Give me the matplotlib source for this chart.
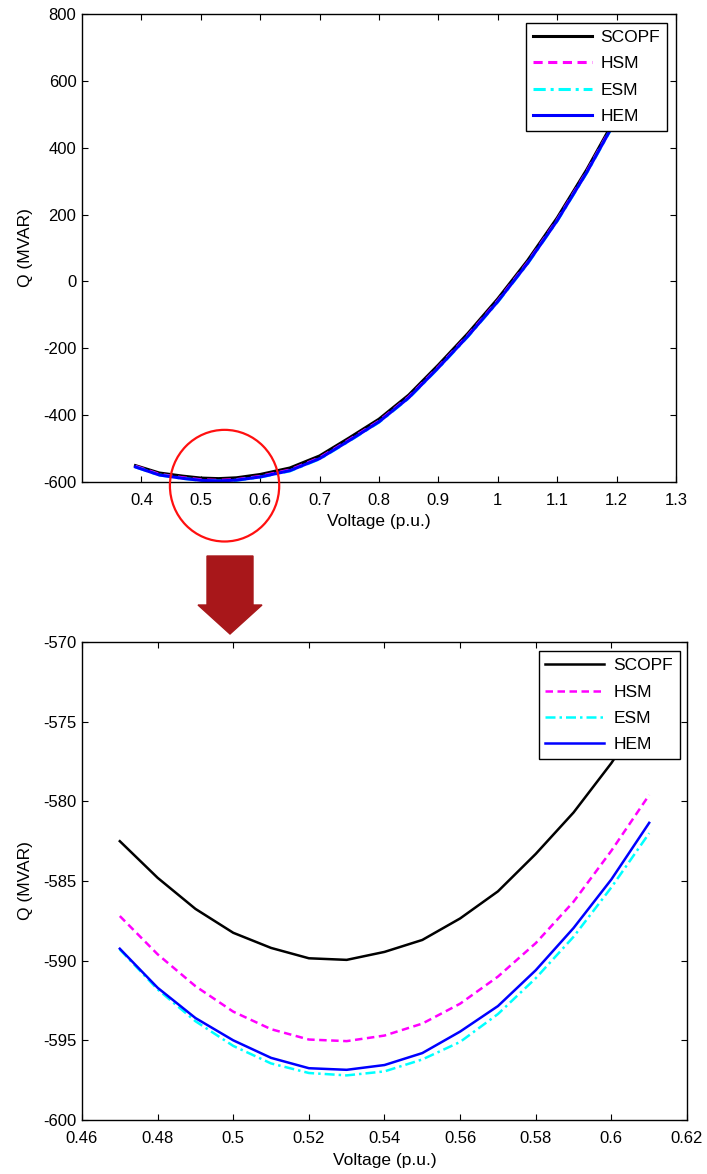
import numpy as np
import matplotlib
matplotlib.use("Agg")
import matplotlib.pyplot as plt
from matplotlib.patches import Ellipse, FancyArrow

plt.rcParams['font.family'] = ['Liberation Sans', 'DejaVu Sans']
plt.rcParams['axes.unicode_minus'] = False

###########################################
# Data

# full range view
v_full = [0.39, 0.43, 0.47, 0.50, 0.53, 0.56, 0.60, 0.65, 0.70, 0.75,
          0.80, 0.85, 0.90, 0.95, 1.00, 1.05, 1.10, 1.15, 1.20, 1.25]
scopf_full = [-551, -573, -582.5, -588.2, -589.9, -587.4, -577.5, -558, -522, -468,
              -412, -340, -250, -155, -52, 62, 190, 335, 495, 670]
hsm_full = [-553, -577, -587.2, -593.2, -595.0, -592.7, -583.1, -564, -528, -474,
            -418, -346, -256, -161, -58, 56, 184, 329, 489, 664]
esm_full = [-555, -579, -589.2, -595.3, -597.2, -594.9, -585.3, -567, -531, -477,
            -421, -349, -259, -164, -61, 53, 181, 326, 486, 661]
hem_full = [-555, -579, -589.2, -595.0, -596.8, -594.4, -584.9, -566, -530, -476,
            -420, -348, -258, -163, -60, 54, 182, 327, 487, 662]

# zoomed view
v_zoom = [0.47, 0.48, 0.49, 0.50, 0.51, 0.52, 0.53, 0.54,
          0.55, 0.56, 0.57, 0.58, 0.59, 0.60, 0.61]
scopf_zoom = [-582.5, -584.8, -586.75, -588.25, -589.2, -589.85, -589.95, -589.45,
              -588.7, -587.35, -585.65, -583.3, -580.7, -577.6, -574.0]
hsm_zoom = [-587.2, -589.6, -591.6, -593.2, -594.3, -594.95, -595.05, -594.7,
            -593.95, -592.7, -591.0, -588.9, -586.3, -583.1, -579.6]
esm_zoom = [-589.3, -591.8, -593.8, -595.35, -596.45, -597.05, -597.2, -596.95,
            -596.2, -595.1, -593.35, -591.1, -588.5, -585.4, -582.0]
hem_zoom = [-589.25, -591.7, -593.6, -595.0, -596.1, -596.75, -596.85, -596.55,
            -595.8, -594.45, -592.85, -590.6, -587.95, -584.9, -581.35]

labels = ["SCOPF", "HSM", "ESM", "HEM"]
colors = ["black", "#FF00FF", "#00FFFF", "#0000FF"]
styles = ["-", "--", "-.", "-"]
dashes = [None, (3, 1.8), (4, 1.6, 1, 1.6), None]

###########################################


def style_axes(ax):
    for s in ax.spines.values():
        s.set_linewidth(1.0)
    ax.tick_params(direction="in", length=4, width=0.8, top=True, right=True,
                   labelsize=12)
    ax.tick_params(axis="x", pad=8)
    ax.tick_params(axis="y", pad=4)


def draw_lines(ax, v, series, lw):
    for i in range(4):
        line, = ax.plot(v, series[i], styles[i], color=colors[i], lw=lw, label=labels[i])
        if dashes[i] is not None:
            line.set_dashes(dashes[i])


def add_legend(ax, anchor):
    leg = ax.legend(loc="upper right", bbox_to_anchor=anchor, borderaxespad=0,
                    fontsize=12.5, handlelength=3.4, handletextpad=0.5, labelspacing=0.65,
                    borderpad=0.4, fancybox=False, edgecolor="black", framealpha=1)
    leg.get_frame().set_linewidth(1.0)
    return leg


fig = plt.figure(figsize=(7.07, 11.74), dpi=100)

# top plot
ax1 = fig.add_axes([82 / 707, 1 - 482 / 1174, 594 / 707, 468 / 1174])
draw_lines(ax1, v_full, [scopf_full, hsm_full, esm_full, hem_full], 2.2)
ax1.set_xlim(0.3, 1.3)
ax1.set_ylim(-600, 800)
ax1.set_xticks(np.arange(0.4, 1.31, 0.1))
ax1.set_xticklabels(["0.4", "0.5", "0.6", "0.7", "0.8", "0.9", "1", "1.1", "1.2", "1.3"])
ax1.set_yticks(np.arange(-600, 801, 200))
ax1.set_xlabel("Voltage (p.u.)", fontsize=12.5, labelpad=4)
ax1.set_ylabel("Q (MVAR)", fontsize=12.5, labelpad=7)
style_axes(ax1)
add_legend(ax1, (0.985, 0.981))

# red circle around the minimum
ax1.add_patch(Ellipse((0.54, -611), 0.184, 334, fill=False, edgecolor="#FF1010",
                      lw=1.6, clip_on=False, zorder=5))

# bottom plot
ax2 = fig.add_axes([82 / 707, 1 - 1120 / 1174, 605 / 707, 478 / 1174])
draw_lines(ax2, v_zoom, [scopf_zoom, hsm_zoom, esm_zoom, hem_zoom], 1.8)
ax2.set_xlim(0.46, 0.62)
ax2.set_ylim(-600, -570)
ax2.set_xticks(np.arange(0.46, 0.621, 0.02))
ax2.set_xticklabels(["0.46", "0.48", "0.5", "0.52", "0.54", "0.56", "0.58", "0.6", "0.62"])
ax2.set_yticks(np.arange(-600, -569, 5))
ax2.set_xlabel("Voltage (p.u.)", fontsize=12.5, labelpad=5)
ax2.set_ylabel("Q (MVAR)", fontsize=12.5, labelpad=7)
style_axes(ax2)
add_legend(ax2, (0.988, 0.981))

# arrow between the plots
arrow = FancyArrow(2.30, 6.18, 0, -0.78, width=0.46, head_width=0.64, head_length=0.29,
                   length_includes_head=True, color="#A8171A", transform=fig.dpi_scale_trans)
fig.add_artist(arrow)

fig.savefig("out.png", dpi=100)
